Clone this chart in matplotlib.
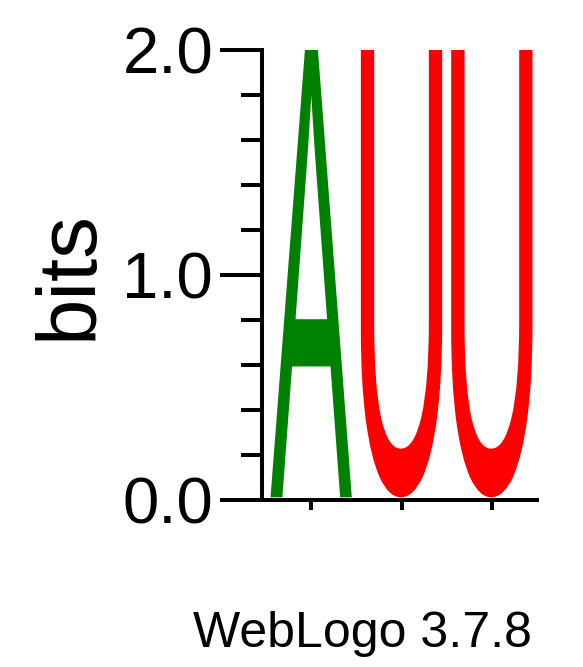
import matplotlib
matplotlib.use("Agg")
import matplotlib.pyplot as plt
from matplotlib.font_manager import FontProperties
from matplotlib.patches import PathPatch
from matplotlib.textpath import TextPath
from matplotlib.transforms import Affine2D

# logo data: one letter per position, stack height in bits
positions = [1, 2, 3]
letters = ["A", "U", "U"]
bits = [2.0, 2.0, 2.0]
colors = {"A": "#008000", "U": "#ff0000"}
ytick_vals = [0.0, 1.0, 2.0]
ytick_labels = ["0.0", "1.0", "2.0"]

FONT = "Liberation Sans"
LW = 2.9

fig = plt.figure(figsize=(5.83, 6.67), dpi=100)
W, H = 583, 667
ax = fig.add_axes([266 / W, (H - 500) / H, (537 - 266) / W, 450 / H])

fp = FontProperties(family=FONT)
col_w = 0.9
for x, ch, h in zip(positions, letters, bits):
    path = TextPath((0, 0), ch, size=1, prop=fp)
    bb = path.get_extents()
    t = (Affine2D().translate(-bb.x0, -bb.y0)
         .scale(col_w / bb.width, (h - 0.012) / bb.height)
         .translate(x - col_w / 2, 0.012))
    ax.add_patch(PathPatch(t.transform_path(path), facecolor=colors[ch],
                           edgecolor="none", lw=0))

ax.set_xlim(0.5, 3.5)
ax.set_ylim(0, 2.0)

for s in ("top", "right"):
    ax.spines[s].set_visible(False)
ax.spines["left"].set_position(("outward", 3))
ax.spines["left"].set_linewidth(LW)
ax.spines["bottom"].set_linewidth(LW)
ax.spines["left"].set_capstyle("projecting")

ax.set_xticks(positions)
ax.set_xticklabels([])
ax.tick_params(axis="x", direction="out", length=7.5, width=LW)

ax.set_yticks(ytick_vals)
ax.set_yticklabels(ytick_labels, fontsize=47, family=FONT)
ax.set_yticks([0.2, 0.4, 0.6, 0.8, 1.2, 1.4, 1.6, 1.8], minor=True)
ax.tick_params(axis="y", which="major", direction="out", length=30, width=LW, pad=5)
ax.tick_params(axis="y", which="minor", direction="out", length=15, width=LW)

fig.text(70 / W, (H - 275) / H, "bits", rotation=90, fontsize=60, family=FONT,
         ha="center", va="center")
fig.text(532 / W, (H - 647) / H, "WebLogo 3.7.8", fontsize=36, family=FONT,
         ha="right", va="baseline")

fig.savefig("out.png", dpi=100)
